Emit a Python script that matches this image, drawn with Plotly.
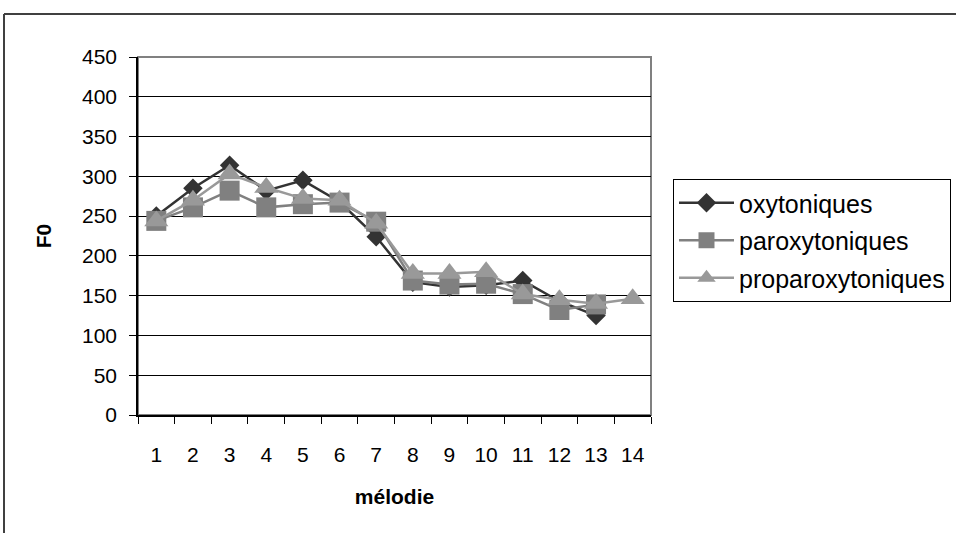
import plotly.graph_objects as go

categories = [str(i) for i in range(1, 15)]
oxytoniques = [250, 285, 314, 282, 295, 268, 224, 167, 161, 163, 169, 143, 125]
paroxytoniques = [244, 261, 282, 261, 265, 267, 243, 169, 164, 165, 152, 132, 139]
proparoxytoniques = [244, 270, 303, 286, 272, 270, 241, 178, 178, 180, 152, 145, 140, 146]
y_ticks = list(range(0, 451, 50))

FONT = "Liberation Sans, Arial, sans-serif"

fig = go.Figure()
series = [
    ("oxytoniques", oxytoniques, "#333333", "#333333", "diamond", 15),
    ("paroxytoniques", paroxytoniques, "#808080", "#808080", "square", 20),
    ("proparoxytoniques", proparoxytoniques, "#999999", "#999999", "triangle-up", 21),
]
for name, vals, lc, mc, sym, sz in series:
    fig.add_trace(go.Scatter(
        x=categories[:len(vals)], y=vals, name=name, mode="lines+markers",
        line=dict(color=lc, width=2.5),
        marker=dict(symbol=sym, size=sz, color=mc, line=dict(width=0)),
        legendgroup=name,
    ))

W, H = 956, 533
ML, MR, MT, MB = 138, 305, 57, 118
PW, PH = W - ML - MR, H - MT - MB

def px_x(p):
    return (p - ML) / PW

def px_y(p):
    return (H - MB - p) / PH

fig.update_layout(
    width=W, height=H,
    margin=dict(l=ML, r=MR, t=MT, b=MB, autoexpand=False),
    paper_bgcolor="white", plot_bgcolor="white",
    font=dict(family=FONT, size=21, color="black"),
    showlegend=True,
    legend=dict(
        x=px_x(673), y=px_y(179), xanchor="left", yanchor="top",
        bordercolor="#000000", borderwidth=1, bgcolor="white",
        font=dict(family=FONT, size=25, color="black"),
        tracegroupgap=2, itemwidth=55, traceorder="grouped",
    ),
    xaxis=dict(
        type="category", tickson="boundaries", ticks="outside", ticklen=7,
        tickcolor="black", showline=True, linecolor="black", linewidth=1.5,
        showgrid=False, zeroline=False, ticklabelstandoff=20,
        tickfont=dict(family=FONT, size=21),
        title=dict(text="<b>mélodie</b>", font=dict(family=FONT, size=21), standoff=24),
        range=[-0.5, 13.5],
    ),
    yaxis=dict(
        range=[0, 450], tickvals=y_ticks, ticks="outside", ticklen=7,
        tickcolor="black", showline=True, linecolor="black", linewidth=1.5,
        showgrid=True, gridcolor="black", gridwidth=1, zeroline=False,
        tickfont=dict(family=FONT, size=21), ticklabelstandoff=8,
        title=dict(text="<b>F0</b>", font=dict(family=FONT, size=21), standoff=25),
    ),
    shapes=[
        dict(type="rect", xref="x domain", yref="y domain", x0=0, x1=1, y0=0, y1=1,
             line=dict(color="#808080", width=2), layer="below"),
        dict(type="line", xref="paper", yref="paper",
             x0=px_x(4), x1=px_x(970), y0=px_y(14), y1=px_y(14),
             line=dict(color="#404040", width=2)),
        dict(type="line", xref="paper", yref="paper",
             x0=px_x(4), x1=px_x(4), y0=px_y(14), y1=px_y(545),
             line=dict(color="#404040", width=2)),
    ],
)

fig.write_html("out.html")
